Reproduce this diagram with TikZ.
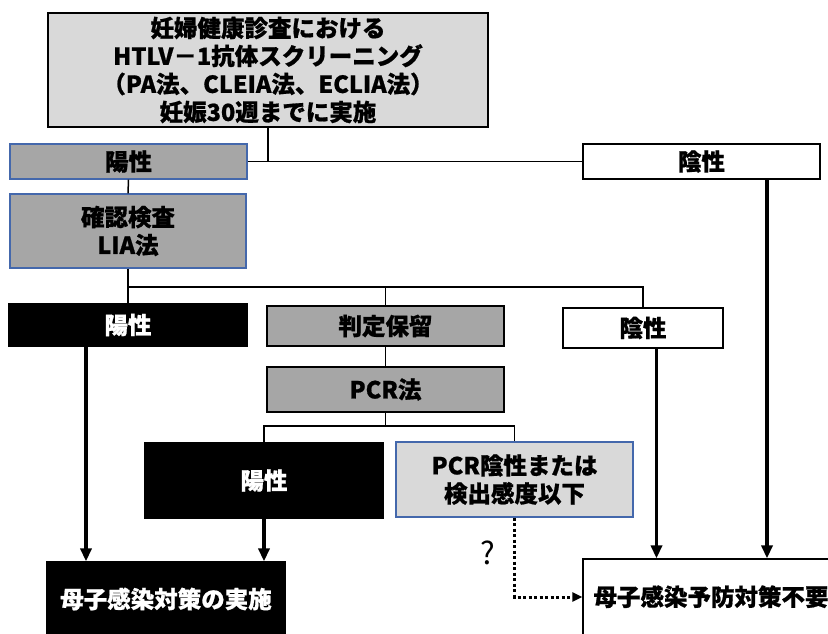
\documentclass[tikz,border=0pt]{standalone}
\usepackage{fontspec}
\setmainfont{Noto Sans CJK JP}[BoldFeatures={FakeBold=0.8}]
\usepackage{tikz}
\usetikzlibrary{arrows.meta}
\usepackage{xcolor}
\definecolor{boxblue}{RGB}{68,104,172}
\definecolor{midgrey}{RGB}{166,166,166}
\definecolor{lightgrey}{RGB}{217,217,217}

\begin{document}
\begin{tikzpicture}[
    x=1pt, y=-1pt,
    box/.style={draw=black, line width=1.2pt, inner sep=0pt, align=center,
        font=\bfseries\fontsize{23.5}{28}\selectfont},
    greybox/.style={box, fill=midgrey},
    bluegrey/.style={box, fill=midgrey, draw=boxblue},
    whitebox/.style={box, fill=white},
    blackbox/.style={box, fill=black, text=white},
    link/.style={line width=1.5pt},
    flow/.style={line width=3.5pt, -{Triangle[length=13pt,width=11pt]}}
    ]
    \clip (0,0) rectangle (828,633);

    % Screening
    \node[box, fill=lightgrey, minimum width=440pt, minimum height=114pt] (scr) at (268,70)
        {妊婦健康診査における\\HTLV－1抗体スクリーニング\\（PA法、CLEIA法、ECLIA法）\\妊娠30週までに実施};
    \node[bluegrey, minimum width=237pt, minimum height=35pt] (pos1) at (128.5,161.5) {陽性};
    \node[whitebox, minimum width=237pt, minimum height=35pt] (neg1) at (701.5,161.5) {陰性};

    % Confirmation test
    \node[bluegrey, minimum width=236pt, minimum height=74pt] (lia) at (128,231) {確認検査\\LIA法};
    \node[blackbox, minimum width=238pt, minimum height=42pt] (pos2) at (128,325) {陽性};
    \node[greybox, minimum width=237pt, minimum height=40pt] (hold) at (385.5,326) {判定保留};
    \node[whitebox, minimum width=160pt, minimum height=40pt] (neg2) at (643,328) {陰性};

    % PCR
    \node[greybox, minimum width=237pt, minimum height=45pt] (pcr) at (385.5,389.5) {PCR法};
    \node[blackbox, minimum width=238pt, minimum height=75pt] (pos3) at (264,480.5) {陽性};
    \node[box, fill=lightgrey, draw=boxblue, minimum width=237pt, minimum height=75pt] (pcrneg) at (514.5,479.5)
        {PCR陰性または\\検出感度以下};

    % Outcomes
    \node[blackbox, minimum width=238pt, minimum height=74pt] (act) at (166,599) {母子感染対策の実施};
    \node[whitebox, minimum width=256pt, minimum height=76pt] (none) at (711,597) {\raisebox{3pt}{母子感染予防対策不要}};

    % Branches
    \draw[link] (scr.south) -- (scr.south |- pos1.east);
    \draw[link] (pos1.east) -- (neg1.west);
    \draw[link] (pos1.south) -- (lia.north);
    \coordinate (split) at (lia.south |- 0,287);
    \draw[link] (lia.south) -- (pos2.north);
    \draw[link] (split) -| (neg2.north);
    \draw[link] (hold.north) -- (hold.north |- split);
    \draw[link] (hold.south) -- (pcr.north);
    \coordinate (split2) at (pcr.south |- 0,426);
    \draw[link] (pcr.south) -- (split2);
    \draw[link] (pos3.north) |- (split2) -| (pcrneg.north);

    % Arrows to outcomes
    \draw[flow] ([xshift=-42pt]pos2.south) -- ([xshift=-42pt]pos2.south |- act.north);
    \draw[flow] (pos3.south) -- (pos3.south |- act.north);
    \draw[flow] ([xshift=65.5pt]neg1.south) -- ([xshift=65.5pt]neg1.south |- none.north);
    \draw[flow] ([xshift=13.5pt]neg2.south) -- ([xshift=13.5pt]neg2.south |- none.north);
    \draw[line width=3pt, dash pattern=on 3pt off 2.5pt, -{Triangle[length=10pt,width=9pt]}] (pcrneg.south)
        |- node[pos=0.22, left=18pt, inner sep=0pt, font=\fontsize{31}{34}\selectfont] {?} (none.west);
\end{tikzpicture}
\end{document}
